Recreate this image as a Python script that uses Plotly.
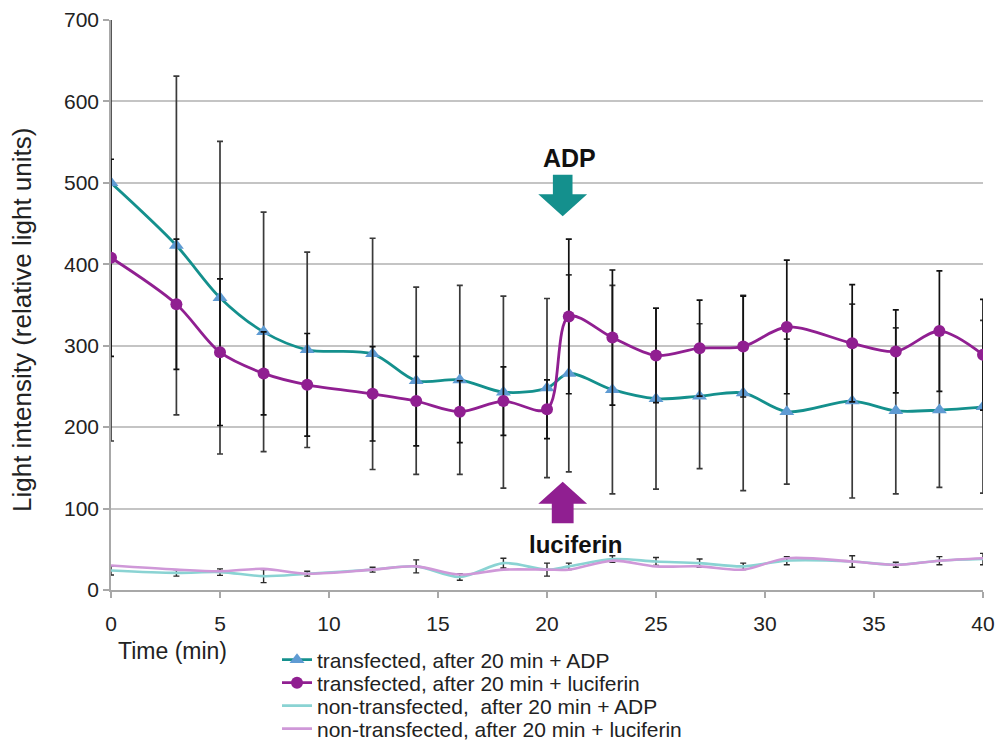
import plotly.graph_objects as go

# ---------------- data ----------------
time_min = [0, 3, 5, 7, 9, 12, 14, 16, 18, 20, 21, 23, 25, 27, 29, 31, 34, 36, 38, 40]

tr_adp = [500, 423, 359, 317, 295, 290, 257, 258, 243, 248, 266, 246, 235, 238, 242, 219, 232, 220, 221, 225]
tr_adp_err = [317, 208, 192, 147, 120, 142, 115, 116, 118, 110, 121, 128, 111, 89, 120, 89, 119, 102, 95, 106]

tr_luc = [408, 351, 292, 266, 252, 241, 232, 219, 232, 222, 336, 310, 288, 297, 299, 323, 303, 293, 318, 289]
tr_luc_err = [121, 80, 90, 51, 63, 58, 55, 38, 42, 36, 95, 83, 58, 59, 62, 82, 72, 51, 74, 68]

non_adp = [24, 21, 22, 17, 20, 25, 29, 16, 33, 25, 29, 38, 35, 33, 29, 36, 35, 31, 36, 38]
non_adp_err = [5.5, 4, 4, 8, 3, 3, 8, 4, 6, 8, 4, 4, 5, 5, 4, 5, 7, 3, 5, 7]

non_luc = [30, 25, 23, 26, 20, 25, 29, 19, 25, 25, 25, 36, 29, 29, 25, 39, 35, 31, 36, 39]

names = [
    "transfected, after 20 min + ADP",
    "transfected, after 20 min + luciferin",
    "non-transfected,\u00a0 after 20 min + ADP",
    "non-transfected, after 20 min + luciferin",
]

x_ticks = [0, 5, 10, 15, 20, 25, 30, 35, 40]
y_ticks = [0, 100, 200, 300, 400, 500, 600, 700]

# ---------------- styles ----------------
TEAL = "#14908d"
TRI = "#5f9bd3"
PURPLE = "#901f91"
LTEAL = "#8ad3d3"
LPURPLE = "#cf98d8"
FONT = "Liberation Sans, Arial, sans-serif"

# plot area in pixels (for placing annotations in paper units)
PL, PR, PT, PB = 111, 983, 20, 590


def px_x(p):
    return (p - PL) / (PR - PL)


def px_y(p):
    return (PB - p) / (PB - PT)


fig = go.Figure()

fig.add_trace(go.Scatter(
    x=time_min, y=tr_adp, name=names[0], mode="lines+markers",
    line=dict(color=TEAL, width=2.8, shape="spline", smoothing=0.9),
    marker=dict(symbol="triangle-up", size=13, color=TRI),
    error_y=dict(type="data", array=tr_adp_err, visible=True, color="#3a3a3a", thickness=1.7, width=3),
    legend="legend",
))
fig.add_trace(go.Scatter(
    x=time_min, y=tr_luc, name=names[1], mode="lines+markers",
    line=dict(color=PURPLE, width=2.8, shape="spline", smoothing=0.9),
    marker=dict(symbol="circle", size=12, color=PURPLE),
    error_y=dict(type="data", array=tr_luc_err, visible=True, color="#111111", thickness=1.7, width=3),
    legend="legend2",
))
fig.add_trace(go.Scatter(
    x=time_min, y=non_adp, name=names[2], mode="lines",
    line=dict(color=LTEAL, width=2.6, shape="spline", smoothing=0.9),
    error_y=dict(type="data", array=non_adp_err, visible=True, color="#2a2a2a", thickness=1.4, width=3),
    legend="legend3",
))
fig.add_trace(go.Scatter(
    x=time_min, y=non_luc, name=names[3], mode="lines",
    line=dict(color=LPURPLE, width=2.6, shape="spline", smoothing=0.9),
    legend="legend4",
))


def arrow_path(xc, y_tip, y_base, y_tail, head_hw, shaft_hw):
    pts = [(xc, y_tip), (xc - head_hw, y_base), (xc - shaft_hw, y_base),
           (xc - shaft_hw, y_tail), (xc + shaft_hw, y_tail),
           (xc + shaft_hw, y_base), (xc + head_hw, y_base)]
    return "M " + " L ".join(f"{px},{py}" for px, py in pts) + " Z"


shapes = [
    dict(type="path", xref="x", yref="y", path=arrow_path(20.72, 459, 486, 510, 1.12, 0.45),
         fillcolor=TEAL, line=dict(width=0)),
    dict(type="path", xref="x", yref="y", path=arrow_path(20.72, 133, 106, 82, 1.12, 0.5),
         fillcolor=PURPLE, line=dict(width=0)),
]

annotations = [
    dict(text="<b>ADP</b>", x=21.05, y=531, xref="x", yref="y", showarrow=False,
         font=dict(family=FONT, size=25, color="#111")),
    dict(text="<b>luciferin</b>", x=21.3, y=56, xref="x", yref="y", showarrow=False,
         font=dict(family=FONT, size=24, color="#111")),
    dict(text="Light intensity (relative light units)", textangle=-90,
         xref="paper", yref="paper", x=px_x(22), y=px_y(320), xanchor="center", yanchor="middle",
         showarrow=False, font=dict(family=FONT, size=26, color="#222")),
    dict(text="Time (min)", xref="paper", yref="paper", x=px_x(116), y=px_y(651),
         xanchor="left", yanchor="middle", showarrow=False,
         font=dict(family=FONT, size=23, color="#222")),
]

leg_common = dict(font=dict(family=FONT, size=21, color="#222"), bgcolor="rgba(0,0,0,0)",
                  xanchor="left", yanchor="middle", x=px_x(277), itemwidth=30)
row_px = [660, 683, 706, 729]
legs = {}
for i, key in enumerate(["legend", "legend2", "legend3", "legend4"]):
    legs[key] = dict(leg_common, y=px_y(row_px[i]))

fig.update_layout(
    width=999, height=751,
    margin=dict(l=PL, r=999 - PR, t=PT, b=751 - PB, autoexpand=False),
    paper_bgcolor="white", plot_bgcolor="white",
    font=dict(family=FONT, color="#222"),
    shapes=shapes, annotations=annotations,
    showlegend=True,
    **legs,
)
fig.update_xaxes(range=[0, 40], tickvals=x_ticks, ticks="outside", ticklen=6, tickcolor="#a8a8a8",
                 tickwidth=1.5, showline=True, linecolor="#a8a8a8", linewidth=1.5,
                 showgrid=False, zeroline=False, ticklabelstandoff=8,
                 tickfont=dict(family=FONT, size=21, color="#222"))
fig.update_yaxes(range=[0, 700], tickvals=y_ticks, ticks="outside", ticklen=6, tickcolor="#a8a8a8",
                 tickwidth=1.5, showline=True, linecolor="#a8a8a8", linewidth=1.5,
                 showgrid=True, gridcolor="#c4c4c4", gridwidth=1.5, zeroline=False,
                 tickfont=dict(family=FONT, size=21, color="#222"))

fig.write_html("out.html")
